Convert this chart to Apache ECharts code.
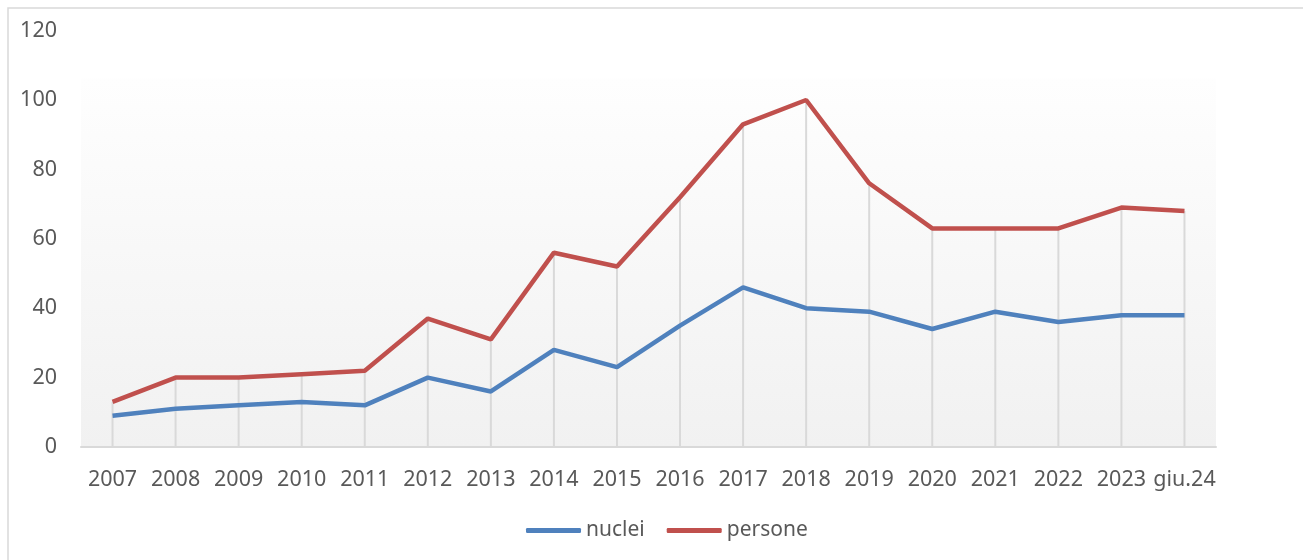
<!DOCTYPE html>
<html>
<head>
<meta charset="utf-8">
<script src="https://cdn.jsdelivr.net/npm/echarts@6/dist/echarts.min.js"></script>
<style>
  html, body { margin: 0; padding: 0; background: #fff; }
  #chart { width: 1303px; height: 560px; }
</style>
</head>
<body>
<div id="chart"></div>
<script>
// anni
const categories = ['2007', '2008', '2009', '2010', '2011', '2012', '2013', '2014', '2015',
  '2016', '2017', '2018', '2019', '2020', '2021', '2022', '2023', 'giu.24']
// nuclei familiari
const nuclei = [9, 11, 12, 13, 12, 20, 16, 28, 23, 35, 46, 40, 39, 34, 39, 36, 38, 38]
// persone
const persone = [13, 20, 20, 21, 22, 37, 31, 56, 52, 72, 93, 100, 76, 63, 63, 63, 69, 68]
// linee verticali (dal punto più alto fino all'asse)
const dropLines = persone.map((v, i) => Math.max(v, nuclei[i]))

const chart = echarts.init(document.getElementById('chart'))
const font = 'Noto Sans'

chart.setOption({
  animation: false,
  graphic: [{
    type: 'rect',
    shape: { x: 8, y: 8, width: 1320, height: 580 },
    style: { fill: 'none', stroke: '#d9d9d9', lineWidth: 1.5 },
    silent: true
  }],
  grid: {
    left: 81,
    right: 87,
    top: 30.6,
    bottom: 113,
    show: true,
    borderWidth: 0,
    backgroundColor: {
      type: 'linear',
      x: 0, y: 0, x2: 0, y2: 1,
      colorStops: [
        { offset: 0, color: '#ffffff' },
        { offset: 0.114, color: '#ffffff' },
        { offset: 0.116, color: '#fefefe' },
        { offset: 1, color: '#f1f1f1' }
      ]
    }
  },
  legend: {
    data: ['nuclei', 'persone'],
    left: 521,
    top: 515,
    itemWidth: 55,
    itemHeight: 5,
    itemGap: 22,
    icon: 'roundRect',
    textStyle: { fontFamily: font, fontSize: 21, color: '#595959' }
  },
  xAxis: {
    type: 'category',
    data: categories,
    boundaryGap: true,
    axisLine: { lineStyle: { color: '#d9d9d9', width: 2 } },
    axisTick: { show: false },
    axisLabel: { fontFamily: font, fontSize: 21.5, color: '#595959', margin: 22, interval: 0 }
  },
  yAxis: {
    type: 'value',
    min: 0,
    max: 120,
    interval: 20,
    axisLine: { show: false },
    axisTick: { show: false },
    splitLine: { show: false },
    axisLabel: { fontFamily: font, fontSize: 21.5, color: '#595959', margin: 24 }
  },
  series: [
    {
      name: 'drop',
      type: 'bar',
      data: dropLines,
      barWidth: 2,
      silent: true,
      z: 1,
      itemStyle: { color: '#d9d9d9' }
    },
    {
      name: 'nuclei',
      type: 'line',
      data: nuclei,
      symbol: 'none',
      z: 3,
      color: '#4f81bd',
      lineStyle: { width: 4.5, color: '#4f81bd' }
    },
    {
      name: 'persone',
      type: 'line',
      data: persone,
      symbol: 'none',
      z: 3,
      color: '#c0504d',
      lineStyle: { width: 4.5, color: '#c0504d' }
    }
  ]
})
</script>
</body>
</html>
